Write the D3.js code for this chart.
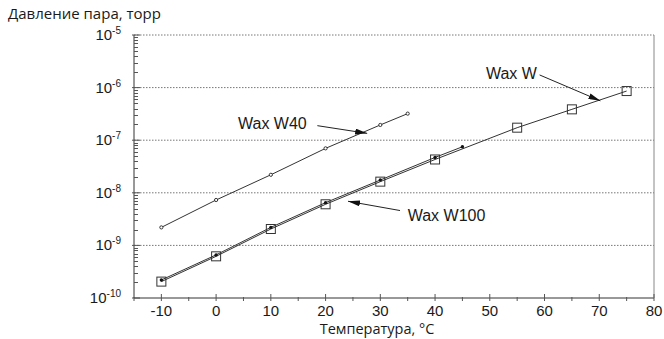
<!DOCTYPE html>
<html>
<head>
<meta charset="utf-8">
<script src="https://cdn.jsdelivr.net/npm/d3@7"></script>
<style>
  body { margin: 0; background: #fff; }
  svg { display: block; }
  .num { font-family: "Liberation Sans", Arial, sans-serif; fill: #1a1a1a; }
  .cap { font-family: "Open Sans", "Noto Sans", sans-serif; fill: #1a1a1a; }
</style>
</head>
<body>
<svg id="chart" width="664" height="339"></svg>
<script>
'use strict';

// Wax W40 (small open circles)
var tempW40 = [-10, 0, 10, 20, 30, 35];
var presW40 = [2.2e-9, 7.3e-9, 2.2e-8, 7.0e-8, 1.95e-7, 3.2e-7];

// Wax W100 (small dots)
var tempW100 = [-10, 0, 10, 20, 30, 40, 45];
var presW100 = [2.2e-10, 6.6e-10, 2.2e-9, 6.5e-9, 1.75e-8, 4.7e-8, 7.5e-8];

// Wax W (squares)
var tempW = [-10, 0, 10, 20, 30, 40, 55, 65, 75];
var presW = [2.05e-10, 6.2e-10, 2.05e-9, 6.05e-9, 1.63e-8, 4.3e-8, 1.73e-7, 3.86e-7, 8.6e-7];

var xTicks = [-10, 0, 10, 20, 30, 40, 50, 60, 70, 80];
var yExps = [-10, -9, -8, -7, -6, -5];

// labels: [text, temp, pressure], arrows: [fromTemp, fromPres, toTemp, toPres]
var labels = [
  ["Wax W40", 4.0, 1.65e-7],
  ["Wax W", 49.3, 1.45e-6],
  ["Wax W100", 35.0, 2.95e-9]
];
var arrows = [
  [18.5, 1.89e-7, 27.6, 1.35e-7],
  [59.1, 1.74e-6, 70.2, 5.6e-7],
  [33.6, 4.6e-9, 24.1, 6.9e-9]
];

var svg = d3.select("#chart");
var m = { left: 134, right: 654, top: 35, bottom: 298 };

var x = d3.scaleLinear().domain([-15, 80]).range([m.left, m.right]);
var y = d3.scaleLog().domain([1e-10, 1e-5]).range([m.bottom, m.top]);

var ink = "#333";

// grid lines at decades
svg.append("g").selectAll("line")
  .data(yExps.filter(function (e) { return e > -10; }))
  .enter().append("line")
  .attr("x1", m.left).attr("x2", m.right)
  .attr("y1", function (e) { return y(Math.pow(10, e)); })
  .attr("y2", function (e) { return y(Math.pow(10, e)); })
  .attr("stroke", "#777").attr("stroke-width", 1)
  .attr("stroke-dasharray", "1.5,1.5");

// frame: left, bottom, right
svg.append("line").attr("x1", m.left).attr("x2", m.left)
  .attr("y1", m.top).attr("y2", m.bottom).attr("stroke", ink);
svg.append("line").attr("x1", m.left).attr("x2", m.right)
  .attr("y1", m.bottom).attr("y2", m.bottom).attr("stroke", ink);
svg.append("line").attr("x1", m.right).attr("x2", m.right)
  .attr("y1", m.top).attr("y2", m.bottom).attr("stroke", "#888");

// y minor ticks inside
var yMinor = [];
yExps.forEach(function (e) {
  if (e === -5) return;
  for (var k = 2; k <= 9; k++) yMinor.push(k * Math.pow(10, e));
});
svg.append("g").selectAll("line").data(yMinor).enter().append("line")
  .attr("x1", m.left).attr("x2", m.left + 4)
  .attr("y1", function (d) { return Math.round(y(d)) + 0.5; })
  .attr("y2", function (d) { return Math.round(y(d)) + 0.5; })
  .attr("stroke", "#555");
svg.append("g").selectAll("line").data(yExps).enter().append("line")
  .attr("x1", m.left - 2).attr("x2", m.left + 6)
  .attr("y1", function (e) { return y(Math.pow(10, e)); })
  .attr("y2", function (e) { return y(Math.pow(10, e)); })
  .attr("stroke", "#555");

// y labels 10^e
var yl = svg.append("g").selectAll("text").data(yExps).enter().append("text")
  .attr("class", "num")
  .attr("x", 121)
  .attr("y", function (e) { return y(Math.pow(10, e)) + 5; })
  .attr("text-anchor", "end")
  .style("font-size", "15px");
yl.append("tspan").text("10");
yl.append("tspan").attr("dy", -6).style("font-size", "10px")
  .text(function (e) { return "-" + Math.abs(e); });

// x ticks
var xMinor = d3.range(-15, 81, 5).filter(function (v) { return v % 10 !== 0; });
svg.append("g").selectAll("line").data(xMinor).enter().append("line")
  .attr("x1", function (d) { return x(d); }).attr("x2", function (d) { return x(d); })
  .attr("y1", m.bottom - 1).attr("y2", m.bottom + 3).attr("stroke", "#555");
svg.append("g").selectAll("line").data(xTicks).enter().append("line")
  .attr("x1", function (d) { return x(d); }).attr("x2", function (d) { return x(d); })
  .attr("y1", m.bottom - 4).attr("y2", m.bottom + 3).attr("stroke", "#555");
svg.append("g").selectAll("text").data(xTicks).enter().append("text")
  .attr("class", "num")
  .attr("x", function (d) { return x(d); })
  .attr("y", 316)
  .attr("text-anchor", "middle")
  .style("font-size", "15px")
  .text(function (d) { return d; });

// axis captions
svg.append("text").attr("class", "cap").attr("x", 8).attr("y", 19)
  .style("font-size", "15px").text("Давление пара, торр");
svg.append("text").attr("class", "cap").attr("x", 377).attr("y", 334)
  .attr("text-anchor", "middle")
  .style("font-size", "14.5px").text("Температура, °C");

// series lines
var line = d3.line().x(function (d) { return x(d[0]); }).y(function (d) { return y(d[1]); });
function pairs(t, p) { return t.map(function (v, i) { return [v, p[i]]; }); }

var w40 = pairs(tempW40, presW40);
var w100 = pairs(tempW100, presW100);
var ww = pairs(tempW, presW);

[w40, w100, ww].forEach(function (s) {
  svg.append("path").datum(s).attr("d", line)
    .attr("fill", "none").attr("stroke", ink).attr("stroke-width", 1);
});

// markers
svg.append("g").selectAll("circle").data(w40).enter().append("circle")
  .attr("cx", function (d) { return x(d[0]); })
  .attr("cy", function (d) { return y(d[1]); })
  .attr("r", 1.6).attr("fill", "#fff").attr("stroke", ink).attr("stroke-width", 1);

svg.append("g").selectAll("circle").data(w100).enter().append("circle")
  .attr("cx", function (d) { return x(d[0]); })
  .attr("cy", function (d) { return y(d[1]); })
  .attr("r", 1.7).attr("fill", "#111");

svg.append("g").selectAll("rect").data(ww).enter().append("rect")
  .attr("x", function (d) { return x(d[0]) - 4.5; })
  .attr("y", function (d) { return y(d[1]) - 4.5; })
  .attr("width", 9).attr("height", 9)
  .attr("fill", "none").attr("stroke", ink).attr("stroke-width", 1);

// annotations
svg.append("defs").append("marker")
  .attr("id", "head").attr("viewBox", "0 0 12 6")
  .attr("refX", 12).attr("refY", 3)
  .attr("markerWidth", 12).attr("markerHeight", 6)
  .attr("markerUnits", "userSpaceOnUse")
  .attr("orient", "auto")
  .append("path").attr("d", "M0,0L12,3L0,6Z").attr("fill", "#111");

svg.append("g").selectAll("line").data(arrows).enter().append("line")
  .attr("x1", function (a) { return x(a[0]); })
  .attr("y1", function (a) { return y(a[1]); })
  .attr("x2", function (a) { return x(a[2]); })
  .attr("y2", function (a) { return y(a[3]); })
  .attr("stroke", "#222").attr("stroke-width", 1)
  .attr("marker-end", "url(#head)");

svg.append("g").selectAll("text").data(labels).enter().append("text")
  .attr("class", "num")
  .attr("x", function (l) { return x(l[1]); })
  .attr("y", function (l) { return y(l[2]); })
  .style("font-size", "16px")
  .text(function (l) { return l[0]; });
</script>
</body>
</html>
